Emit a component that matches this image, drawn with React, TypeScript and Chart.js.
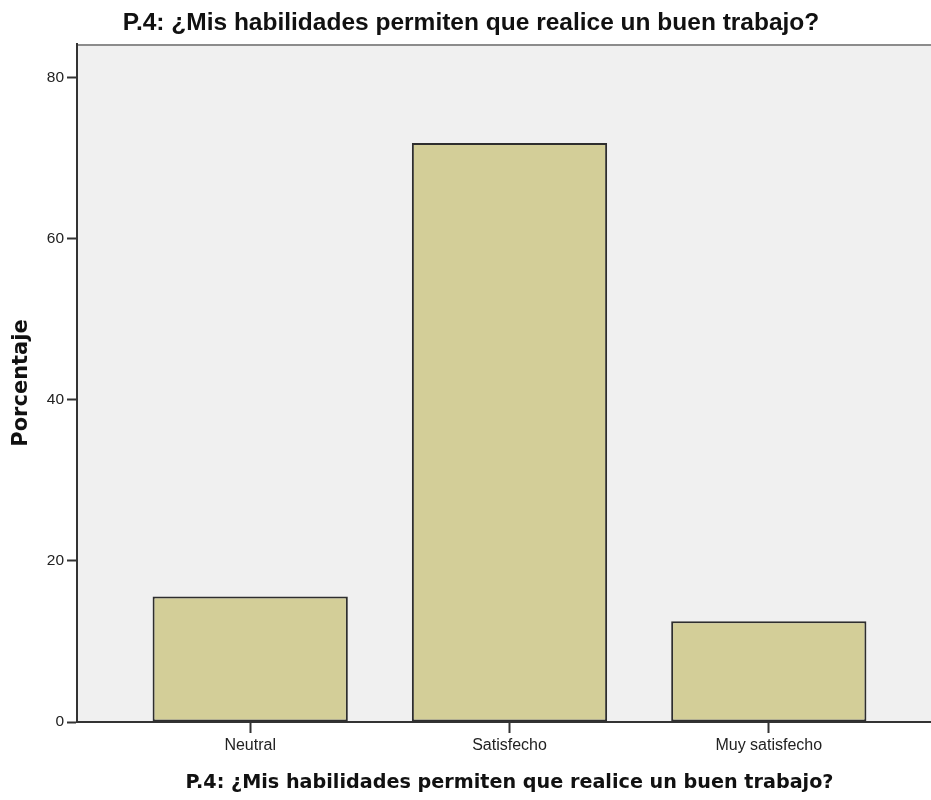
import React, { useEffect, useRef } from "react";
import { Chart, registerables } from "chart.js";

Chart.register(...registerables);

const TITLE = "P.4: ¿Mis habilidades permiten que realice un buen trabajo?";
const Y_TITLE = "Porcentaje";
const categories = ["Neutral", "Satisfecho", "Muy satisfecho"];
const percentages = [15.6, 71.9, 12.5];
const yTicks = [0, 20, 40, 60, 80];

const plotFrame = {
  id: "plotFrame",
  beforeDraw(chart: any) {
    const { ctx, chartArea } = chart;
    if (!chartArea) return;
    ctx.save();
    ctx.fillStyle = "#F0F0F0";
    ctx.fillRect(chartArea.left, chartArea.top, chartArea.right - chartArea.left, chartArea.bottom - chartArea.top);
    ctx.strokeStyle = "#8c8c8c";
    ctx.lineWidth = 2;
    ctx.beginPath();
    ctx.moveTo(chartArea.left, chartArea.top + 1);
    ctx.lineTo(chartArea.right, chartArea.top + 1);
    ctx.stroke();
    ctx.restore();
  },
};

export default function App() {
  const ref = useRef<HTMLCanvasElement | null>(null);

  useEffect(() => {
    if (!ref.current) return;
    const chart = new Chart(ref.current, {
      type: "bar",
      data: {
        datasets: [
          {
            data: categories.map((_, i) => ({ x: i, y: percentages[i] })),
            backgroundColor: "#D3CE98",
            borderColor: "#2e2e2e",
            borderWidth: 2,
            borderSkipped: false,
            barPercentage: 0.753,
            categoryPercentage: 1,
          },
        ],
      },
      options: {
        animation: false,
        responsive: false,
        maintainAspectRatio: false,
        layout: { padding: 0 },
        plugins: {
          legend: { display: false },
          tooltip: { enabled: false },
          title: {
            display: true,
            text: TITLE,
            color: "#111111",
            font: { family: "'Liberation Sans', Arial, sans-serif", size: 24.5, weight: "bold", lineHeight: 1.2 },
            padding: { top: 9, bottom: 5.6 },
          },
        },
        scales: {
          x: {
            type: "linear",
            offset: false,
            min: -0.668,
            max: 2.668,
            afterBuildTicks: (scale: any) => {
              scale.ticks = categories.map((_, i) => ({ value: i }));
            },
            afterFit: (scale: any) => {
              scale.height = 78;
            },
            ticks: {
              callback: (v: any) => categories[Math.round(Number(v))] ?? "",
              color: "#222222",
              font: { family: "'Liberation Sans', Arial, sans-serif", size: 16 },
              padding: 3,
              maxRotation: 0,
              autoSkip: false,
            },
            grid: {
              display: true,
              offset: false,
              drawOnChartArea: false,
              drawTicks: true,
              tickLength: 11,
              tickColor: "#333333",
              tickWidth: 2,
            },
            border: { display: true, color: "#333333", width: 2 },
            title: {
              display: true,
              text: TITLE,
              color: "#111111",
              font: { family: "'DejaVu Sans', sans-serif", size: 19.2, weight: "bold", lineHeight: 1.2 },
              padding: { top: 0, bottom: 5 },
            },
          },
          y: {
            min: 0,
            max: 84.2,
            afterBuildTicks: (scale: any) => {
              scale.ticks = yTicks.map((v) => ({ value: v }));
            },
            afterFit: (scale: any) => {
              scale.width = 77;
            },
            ticks: {
              color: "#222222",
              font: { family: "'Liberation Sans', Arial, sans-serif", size: 15.5 },
              padding: 3,
            },
            grid: {
              display: true,
              drawOnChartArea: false,
              drawTicks: true,
              tickLength: 10,
              tickColor: "#333333",
              tickWidth: 2,
            },
            border: { display: true, color: "#333333", width: 2 },
            title: {
              display: true,
              text: Y_TITLE,
              color: "#111111",
              font: { family: "'DejaVu Sans', sans-serif", size: 21, weight: "bold", lineHeight: 1.2 },
              padding: { top: 9, bottom: 0 },
            },
          },
        },
      },
      plugins: [plotFrame],
    });
    return () => chart.destroy();
  }, []);

  return (
    <div style={{ position: "absolute", left: 0, top: 0, width: 931, height: 800, overflow: "hidden", background: "#ffffff" }}>
      <canvas ref={ref} width={942} height={800} style={{ width: 942, height: 800, display: "block" }} />
    </div>
  );
}
